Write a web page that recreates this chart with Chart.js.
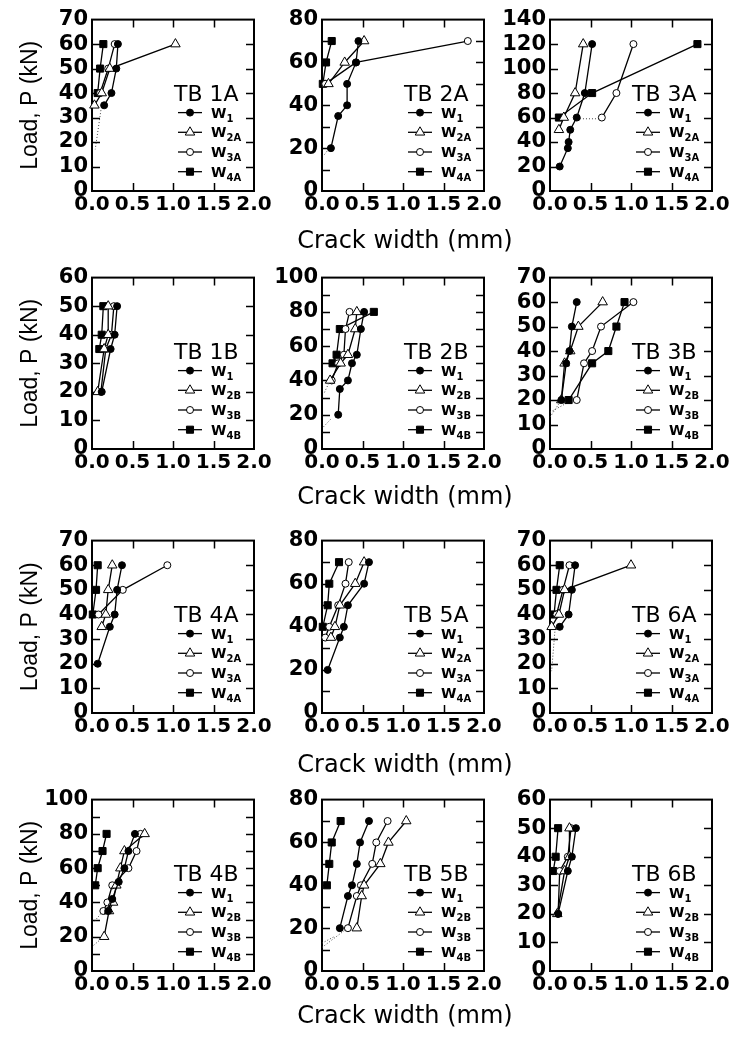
<!DOCTYPE html>
<html>
<head>
<meta charset="utf-8">
<title>Load vs crack width</title>
<script src="https://cdn.jsdelivr.net/npm/chart.js@4.4.1/dist/chart.umd.min.js"></script>
<style>
  body { margin: 0; background: #fff; }
  #wrap { position: relative; width: 740px; height: 1038px; overflow: hidden; }
  canvas { position: absolute; }
</style>
</head>
<body>
<div id="wrap"></div>
<script>
// Load (kN) vs crack width (mm), 12 beams, 4 gauges each
// points are [crack width, load]

const panelNames = ['TB 1A', 'TB 2A', 'TB 3A', 'TB 1B', 'TB 2B', 'TB 3B',
                    'TB 4A', 'TB 5A', 'TB 6A', 'TB 4B', 'TB 5B', 'TB 6B'];
const yMax   = [70, 80, 140, 60, 100, 70, 70, 80, 70, 100, 80, 60];
const yStep  = [10, 20, 20, 10, 20, 10, 10, 20, 10, 20, 20, 10];
const yMinor = [10, 10, 20, 10, 10, 10, 10, 10, 10, 10, 10, 10];
const xTicks = [0, 0.5, 1.0, 1.5, 2.0];
const subsA = ['1', '2A', '3A', '4A'];
const subsB = ['1', '2B', '3B', '4B'];
const xTitle = 'Crack width (mm)';
const yTitle = 'Load, P (kN)';

// TB 1A
const tb1A_W1  = [[0.15, 35], [0.24, 40], [0.30, 50], [0.32, 60]];
const tb1A_W2A = [[0.03, 35], [0.12, 40], [0.22, 50], [1.03, 60]];
const tb1A_W3A = [[0.10, 40], [0.20, 50], [0.28, 60]];
const tb1A_W4A = [[0.07, 40], [0.10, 50], [0.14, 60]];
const tb1A_dot = [[0.11, 33], [0.04, 17]];

// TB 2A
const tb2A_W1  = [[0.11, 20], [0.20, 35], [0.31, 40], [0.31, 50], [0.42, 60], [0.45, 70]];
const tb2A_W2A = [[0.08, 50], [0.28, 60], [0.52, 70]];
const tb2A_W3A = [[0.04, 50], [0.42, 60], [1.80, 70]];
const tb2A_W4A = [[0.01, 50], [0.05, 60], [0.12, 70]];
const tb2A_dot = [[0.03, 17], [0.09, 20]];

// TB 3A
const tb3A_W1  = [[0.12, 20], [0.22, 35], [0.23, 40], [0.25, 50], [0.33, 60], [0.43, 80], [0.52, 120]];
const tb3A_W2A = [[0.11, 50], [0.17, 60], [0.31, 80], [0.41, 120]];
const tb3A_W3A = [[0.64, 60], [0.82, 80], [1.03, 120]];
const tb3A_W4A = [[0.11, 60], [0.52, 80], [1.82, 120]];
const tb3A_dot = [[0.37, 59], [0.60, 59]];

// TB 1B
const tb1B_W1  = [[0.12, 20], [0.23, 35], [0.28, 40], [0.31, 50]];
const tb1B_W2B = [[0.07, 20], [0.15, 35], [0.20, 40], [0.20, 50]];
const tb1B_W3B = [[0.11, 20], [0.17, 35], [0.24, 40], [0.27, 50]];
const tb1B_W4B = [[0.09, 35], [0.12, 40], [0.14, 50]];

// TB 2B
const tb2B_W1  = [[0.20, 20], [0.22, 35], [0.32, 40], [0.37, 50], [0.43, 55], [0.48, 70], [0.52, 80]];
const tb2B_W2B = [[0.10, 40], [0.23, 50], [0.32, 55], [0.41, 70], [0.43, 80]];
const tb2B_W3B = [[0.12, 40], [0.20, 50], [0.27, 55], [0.29, 70], [0.34, 80]];
const tb2B_W4B = [[0.13, 50], [0.18, 55], [0.22, 70], [0.64, 80]];
const tb2B_dot = [[0.02, 13], [0.12, 18]];
const tb2B_dot2 = [[0.03, 33], [0.08, 38]];

// TB 3B
const tb3B_W1  = [[0.14, 20], [0.20, 35], [0.24, 40], [0.27, 50], [0.33, 60]];
const tb3B_W2B = [[0.14, 20], [0.18, 35], [0.25, 40], [0.35, 50], [0.65, 60]];
const tb3B_W3B = [[0.33, 20], [0.42, 35], [0.52, 40], [0.63, 50], [1.03, 60]];
const tb3B_W4B = [[0.23, 20], [0.52, 35], [0.72, 40], [0.82, 50], [0.92, 60]];
const tb3B_dot = [[0.00, 13], [0.12, 19]];
const tb3B_dot2 = [[0.00, 15], [0.22, 19]];

// TB 4A
const tb4A_W1  = [[0.07, 20], [0.22, 35], [0.28, 40], [0.31, 50], [0.37, 60]];
const tb4A_W2A = [[0.12, 35], [0.17, 40], [0.20, 50], [0.25, 60]];
const tb4A_W3A = [[0.08, 40], [0.38, 50], [0.93, 60]];
const tb4A_W4A = [[0.01, 40], [0.05, 50], [0.07, 60]];

// TB 5A
const tb5A_W1  = [[0.07, 20], [0.22, 35], [0.27, 40], [0.32, 50], [0.52, 60], [0.58, 70]];
const tb5A_W2A = [[0.11, 35], [0.16, 40], [0.22, 50], [0.41, 60], [0.52, 70]];
const tb5A_W3A = [[0.04, 35], [0.09, 40], [0.20, 50], [0.29, 60], [0.33, 70]];
const tb5A_W4A = [[0.01, 40], [0.07, 50], [0.09, 60], [0.21, 70]];

// TB 6A
const tb6A_W1  = [[0.12, 35], [0.23, 40], [0.27, 50], [0.31, 60]];
const tb6A_W2A = [[0.02, 35], [0.11, 40], [0.18, 50], [1.00, 60]];
const tb6A_W3A = [[0.08, 40], [0.16, 50], [0.24, 60]];
const tb6A_W4A = [[0.05, 40], [0.08, 50], [0.12, 60]];
const tb6A_dot = [[0.06, 33], [0.02, 17]];

// TB 4B
const tb4B_W1  = [[0.20, 35], [0.25, 42], [0.33, 52], [0.40, 60], [0.45, 70], [0.53, 80]];
const tb4B_W2B = [[0.15, 20], [0.21, 35], [0.26, 40], [0.30, 50], [0.35, 60], [0.40, 70], [0.65, 80]];
const tb4B_W3B = [[0.14, 35], [0.19, 40], [0.25, 50], [0.45, 60], [0.55, 70], [0.60, 80]];
const tb4B_W4B = [[0.04, 50], [0.07, 60], [0.13, 70], [0.18, 80]];
const tb4B_dot = [[0.02, 15], [0.12, 19]];
const tb4B_dot2 = [[0.03, 29], [0.12, 34]];

// TB 5B
const tb5B_W1  = [[0.22, 20], [0.32, 35], [0.37, 40], [0.43, 50], [0.47, 60], [0.58, 70]];
const tb5B_W2B = [[0.43, 20], [0.49, 35], [0.52, 40], [0.72, 50], [0.82, 60], [1.04, 70]];
const tb5B_W3B = [[0.32, 20], [0.43, 35], [0.48, 40], [0.62, 50], [0.67, 60], [0.81, 70]];
const tb5B_W4B = [[0.06, 40], [0.09, 50], [0.12, 60], [0.23, 70]];
const tb5B_dot = [[0.00, 11], [0.28, 19]];
const tb5B_dot2 = [[0.00, 13], [0.15, 16]];

// TB 6B
const tb6B_W1  = [[0.10, 20], [0.22, 35], [0.27, 40], [0.32, 50]];
const tb6B_W2B = [[0.09, 20], [0.18, 35], [0.24, 40], [0.24, 50]];
const tb6B_W3B = [[0.10, 20], [0.12, 35], [0.22, 40], [0.26, 50]];
const tb6B_W4B = [[0.04, 35], [0.07, 40], [0.10, 50]];

const panelSeries = [
  [tb1A_W1, tb1A_W2A, tb1A_W3A, tb1A_W4A],
  [tb2A_W1, tb2A_W2A, tb2A_W3A, tb2A_W4A],
  [tb3A_W1, tb3A_W2A, tb3A_W3A, tb3A_W4A],
  [tb1B_W1, tb1B_W2B, tb1B_W3B, tb1B_W4B],
  [tb2B_W1, tb2B_W2B, tb2B_W3B, tb2B_W4B],
  [tb3B_W1, tb3B_W2B, tb3B_W3B, tb3B_W4B],
  [tb4A_W1, tb4A_W2A, tb4A_W3A, tb4A_W4A],
  [tb5A_W1, tb5A_W2A, tb5A_W3A, tb5A_W4A],
  [tb6A_W1, tb6A_W2A, tb6A_W3A, tb6A_W4A],
  [tb4B_W1, tb4B_W2B, tb4B_W3B, tb4B_W4B],
  [tb5B_W1, tb5B_W2B, tb5B_W3B, tb5B_W4B],
  [tb6B_W1, tb6B_W2B, tb6B_W3B, tb6B_W4B]
];
const panelDots = [
  [tb1A_dot], [tb2A_dot], [tb3A_dot],
  [], [tb2B_dot, tb2B_dot2], [tb3B_dot, tb3B_dot2],
  [], [], [tb6A_dot],
  [tb4B_dot, tb4B_dot2], [tb5B_dot, tb5B_dot2], []
];

// layout (pixels)
const plotLeft = [92, 322, 550];
const axisW = [92, 60, 60];
const padRight = [22, 50, 22];
const plotW = 162;
const plotTop = [17, 275, 538, 797];
const plotH = [174, 174, 175, 174];
const titleGap = [51, 49, 53, 46];
const padTop = 14;

// marker styles for W1, W2, W3, W4
const marks = [
  {pointStyle: 'circle', radius: 3.5, bg: '#000'},
  {pointStyle: 'triangle', radius: 5.5, bg: '#fff'},
  {pointStyle: 'circle', radius: 3.5, bg: '#fff'},
  {pointStyle: 'rect', radius: 5, bg: '#000'}
];

Chart.defaults.font.family = '"DejaVu Sans", sans-serif';
Chart.defaults.color = '#000';

function drawMark(ctx, m, x, y) {
  const r = m.radius;
  ctx.beginPath();
  if (m.pointStyle === 'triangle') {
    for (let k = 0; k < 3; k++) {
      const a = k * 2 * Math.PI / 3;
      const px = x + Math.sin(a) * r, py = y - Math.cos(a) * r;
      if (k === 0) ctx.moveTo(px, py); else ctx.lineTo(px, py);
    }
    ctx.closePath();
  } else if (m.pointStyle === 'rect') {
    const s = r * Math.SQRT1_2;
    ctx.rect(x - s, y - s, 2 * s, 2 * s);
  } else {
    ctx.arc(x, y, r, 0, 2 * Math.PI);
  }
  ctx.fillStyle = m.bg;
  ctx.fill();
  ctx.lineWidth = 1;
  ctx.strokeStyle = '#000';
  ctx.stroke();
}

// box + inward ticks on all four sides
const framePlugin = {
  id: 'frame',
  beforeDatasetsDraw(chart) {
    const {ctx, chartArea: a, scales: {x, y}} = chart;
    const o = chart.options.plugins.frame;
    const tl = 8;
    ctx.save();
    ctx.strokeStyle = '#000';
    ctx.lineWidth = 1.5;
    ctx.beginPath();
    for (let v = o.minor; v < o.max; v += o.minor) {
      const py = Math.round(y.getPixelForValue(v)) + 0.5;
      ctx.moveTo(a.left, py); ctx.lineTo(a.left + tl, py);
      ctx.moveTo(a.right, py); ctx.lineTo(a.right - tl, py);
    }
    xTicks.slice(1, -1).forEach(v => {
      const px = Math.round(x.getPixelForValue(v)) + 0.5;
      ctx.moveTo(px, a.top); ctx.lineTo(px, a.top + tl);
      ctx.moveTo(px, a.bottom); ctx.lineTo(px, a.bottom - tl);
    });
    ctx.stroke();
    ctx.lineWidth = 2;
    ctx.strokeRect(a.left, a.top, a.right - a.left, a.bottom - a.top);
    ctx.restore();
  }
};

// panel name, legend with subscripts, shared x title
const keyPlugin = {
  id: 'key',
  afterDatasetsDraw(chart) {
    const {ctx, chartArea: a} = chart;
    const o = chart.options.plugins.key;
    ctx.save();
    ctx.fillStyle = '#000';
    ctx.textAlign = 'left';
    ctx.textBaseline = 'alphabetic';
    ctx.font = '22px "DejaVu Sans"';
    ctx.fillText(o.name, a.right - 80, a.top + 81);
    o.subs.forEach((s, k) => {
      const yy = a.top + 93 + k * 19.7;
      ctx.beginPath();
      ctx.moveTo(a.right - 76, yy);
      ctx.lineTo(a.right - 52, yy);
      ctx.lineWidth = 1.3;
      ctx.strokeStyle = '#000';
      ctx.stroke();
      drawMark(ctx, marks[k], a.right - 64, yy);
      ctx.fillStyle = '#000';
      ctx.font = 'bold 14px "DejaVu Sans"';
      ctx.fillText('W', a.right - 43, yy + 5);
      const w = ctx.measureText('W').width;
      ctx.font = 'bold 10px "DejaVu Sans"';
      ctx.fillText(s, a.right - 43 + w, yy + 9);
    });
    if (o.xgap) {
      ctx.font = '24px "DejaVu Sans"';
      ctx.textAlign = 'center';
      ctx.textBaseline = 'middle';
      ctx.fillText(xTitle, (a.left + a.right) / 2 + 2, a.bottom + o.xgap);
    }
    ctx.restore();
  }
};

const wrap = document.getElementById('wrap');

panelNames.forEach((name, i) => {
  const col = i % 3, row = Math.floor(i / 3);
  const xH = col === 1 ? titleGap[row] + 15 : 34;
  const cv = document.createElement('canvas');
  cv.width = axisW[col] + plotW + padRight[col];
  cv.height = padTop + plotH[row] + Math.round(xH);
  cv.style.left = (plotLeft[col] - axisW[col]) + 'px';
  cv.style.top = (plotTop[row] - padTop) + 'px';
  wrap.appendChild(cv);

  const datasets = panelSeries[i].map((pts, k) => ({
    data: pts.map(p => ({x: p[0], y: p[1]})),
    borderColor: '#000',
    borderWidth: 1.3,
    pointStyle: marks[k].pointStyle,
    pointRadius: marks[k].radius,
    pointBackgroundColor: marks[k].bg,
    pointBorderColor: '#000',
    pointBorderWidth: 1,
    tension: 0,
    fill: false,
    clip: false
  }));
  panelDots[i].forEach(pts => datasets.push({
    data: pts.map(p => ({x: p[0], y: p[1]})),
    borderColor: '#444',
    borderWidth: 1,
    borderDash: [1, 2],
    pointRadius: 0,
    fill: false,
    clip: false
  }));

  new Chart(cv, {
    type: 'line',
    data: {datasets: datasets},
    options: {
      responsive: false,
      animation: false,
      events: [],
      layout: {padding: {top: padTop, right: padRight[col], left: 0, bottom: 0}},
      plugins: {
        legend: {display: false},
        tooltip: {enabled: false},
        frame: {max: yMax[i], minor: yMinor[i]},
        key: {name: name, subs: name.endsWith('A') ? subsA : subsB, xgap: col === 1 ? titleGap[row] : 0}
      },
      scales: {
        x: {
          type: 'linear',
          min: 0,
          max: 2,
          grid: {display: false, drawTicks: false},
          border: {display: false},
          ticks: {
            stepSize: 0.5,
            autoSkip: false,
            maxRotation: 0,
            padding: 2,
            color: '#000',
            font: {size: 20, weight: 'bold'},
            callback: v => Number(v).toFixed(1)
          },
          afterFit: s => { s.height = xH; }
        },
        y: {
          min: 0,
          max: yMax[i],
          grid: {display: false, drawTicks: false},
          border: {display: false},
          ticks: {
            stepSize: yStep[i],
            autoSkip: false,
            padding: 4,
            color: '#000',
            font: {size: 21, weight: 'bold'}
          },
          title: {
            display: col === 0,
            text: yTitle,
            color: '#000',
            font: {family: '"Liberation Sans", Arial, sans-serif', size: 23},
            padding: {top: 17, bottom: 0}
          },
          afterFit: s => { s.width = axisW[col]; }
        }
      }
    },
    plugins: [framePlugin, keyPlugin]
  });
});
</script>
</body>
</html>
